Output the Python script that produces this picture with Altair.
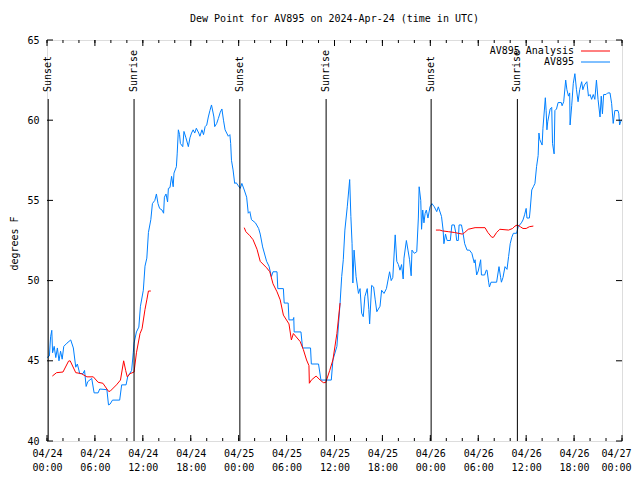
import json
import altair as alt
import pandas as pd

# ---------------- data ----------------
TITLE = "Dew Point for AV895 on 2024-Apr-24 (time in UTC)"
Y_TITLE = "degrees F"

# observed series (hours since 04/24 00:00 UTC, degrees F)
obs_hours = [0.0, 0.3, 0.45, 0.6, 0.7, 0.9, 1.1, 1.3, 1.5, 1.7, 1.9, 2.1, 2.5, 2.97, 3.3, 3.6, 3.8, 4.1, 4.5, 4.7,
             4.9, 5.1, 5.6, 5.9, 6.4, 6.6, 7.5, 7.7, 7.9, 8.2, 9.1, 9.35, 9.9, 10.1, 10.6, 10.8, 10.9, 11.2, 11.5, 11.7,
             12.06, 12.27, 12.5, 12.7, 13.0, 13.2, 13.5, 13.7, 13.9, 14.1, 14.4, 14.6, 14.7, 14.9, 15.1, 15.2, 15.4, 15.6, 15.8, 15.9,
             16.2, 16.3, 16.45, 16.6, 16.7, 17.0, 17.15, 17.4, 17.7, 17.9, 18.1, 18.3, 18.5, 18.7, 19.0, 19.15, 19.4, 19.6, 19.8, 20.0,
             20.2, 20.4, 20.6, 20.9, 21.0, 21.25, 21.45, 21.7, 21.9, 22.1, 22.3, 22.5, 22.7, 22.9, 23.0, 23.1, 23.3, 23.5, 23.7, 23.9,
             24.2, 24.4, 24.7, 25.0, 25.2, 25.4, 25.6, 26.1, 26.5, 26.7, 27.0, 27.5, 27.8, 28.1, 28.3, 28.8, 28.9, 29.6, 29.7, 30.2,
             30.3, 30.8, 30.9, 30.95, 31.8, 32.0, 33.0, 33.1, 34.0, 34.3, 35.6, 35.8, 36.3, 36.7, 36.9, 37.1, 37.3, 37.6, 37.9, 38.05,
             38.2, 38.3, 38.45, 38.7, 39.0, 39.2, 39.4, 39.6, 39.8, 40.1, 40.3, 40.4, 40.65, 40.9, 41.1, 41.3, 41.7, 41.9, 42.2, 42.5,
             42.9, 43.1, 43.3, 43.6, 43.8, 44.0, 44.2, 44.4, 44.6, 44.7, 45.0, 45.2, 45.4, 45.6, 45.7, 46.0, 46.3, 46.5, 46.6, 46.8,
             46.9, 47.05, 47.2, 47.35, 47.5, 47.7, 47.96, 48.2, 48.5, 48.8, 49.0, 49.4, 49.6, 49.7, 49.9, 50.1, 50.5, 50.7, 51.0, 51.2,
             51.3, 51.5, 51.6, 51.9, 52.1, 52.3, 52.6, 52.9, 53.2, 53.5, 53.6, 53.8, 54.0, 54.3, 54.4, 54.8, 55.0, 55.1, 55.3, 55.4,
             55.6, 56.3, 56.6, 56.8, 56.9, 57.1, 57.35, 57.6, 57.8, 58.0, 58.2, 58.4, 58.8, 59.0, 59.4, 59.6, 59.8, 60.0, 60.1, 60.4,
             60.5, 60.7, 60.9, 61.1, 61.3, 61.5, 61.6, 61.7, 62.0, 62.1, 62.4, 62.5, 62.6, 62.7, 63.0, 63.2, 63.3, 63.5, 63.6, 63.8,
             64.0, 64.4, 64.5, 64.7, 64.95, 65.1, 65.3, 65.45, 65.5, 65.7, 65.9, 66.1, 66.3, 66.5, 66.7, 66.95, 67.1, 67.3, 67.6, 67.8,
             68.0, 68.2, 68.4, 68.6, 68.8, 69.0, 69.25, 69.4, 69.55, 69.7, 70.0, 70.2, 70.5, 70.7, 70.9, 71.1, 71.5, 71.6, 71.7, 71.9,
             72.0]
obs_values = [45.2, 45.3, 46.5, 46.9, 45.5, 45.9, 45.2, 45.8, 45.0, 45.6, 45.1, 45.9, 46.1, 46.3, 45.8, 44.6, 44.8, 44.2, 44.2, 44.4,
              43.4, 43.7, 43.9, 43.0, 43.0, 43.24, 43.2, 42.25, 42.3, 42.55, 42.55, 43.5, 43.5, 44.0, 44.4, 45.5, 46.1, 46.8, 47.1, 48.4,
              49.4, 50.9, 51.4, 53.0, 53.8, 54.8, 55.0, 55.4, 54.8, 54.5, 54.4, 54.2, 55.2, 55.4, 54.9, 55.75, 55.8, 56.5, 55.85, 56.7,
              57.1, 57.9, 59.4, 59.1, 58.55, 58.35, 59.3, 58.9, 58.35, 58.9, 59.2, 59.4, 59.2, 59.5, 59.2, 59.0, 59.4, 59.1, 59.6, 59.7,
              60.2, 60.6, 60.95, 60.2, 59.6, 59.8, 60.1, 60.5, 60.7, 60.0, 59.4, 59.2, 59.0, 59.1, 58.55, 57.5, 56.9, 56.06, 56.1, 55.95,
              55.75, 56.06, 55.65, 55.2, 54.2, 54.3, 53.8, 53.6, 53.25, 52.9, 52.1, 51.2, 50.9, 50.25, 50.55, 50.55, 49.5, 49.5, 48.6, 48.6,
              47.55, 47.55, 47.7, 46.8, 46.8, 45.8, 45.8, 44.8, 44.8, 43.8, 43.8, 45.05, 45.9, 48.6, 50.25, 51.3, 53.15, 54.6, 56.3, 54.0,
              52.3, 49.85, 51.9, 50.25, 49.2, 49.5, 47.97, 47.75, 49.0, 49.5, 48.2, 47.3, 49.7, 49.6, 48.8, 48.06, 48.4, 49.4, 49.2, 49.5,
              50.55, 50.0, 50.2, 52.85, 51.2, 51.0, 50.65, 51.0, 50.1, 51.4, 52.5, 51.9, 51.3, 50.3, 51.9, 51.7, 51.8, 53.9, 55.85, 55.0,
              53.2, 54.4, 53.6, 54.2, 54.4, 53.9, 54.6, 54.8, 54.6, 54.3, 54.6, 54.0, 53.15, 52.3, 52.9, 52.5, 52.5, 53.47, 53.47, 52.95,
              52.5, 52.5, 53.47, 53.47, 52.95, 52.3, 51.9, 51.9, 51.7, 51.1, 51.3, 50.35, 50.6, 51.3, 50.35, 50.35, 50.65, 50.65, 49.9, 49.6,
              49.9, 49.9, 50.87, 50.2, 49.9, 50.2, 50.87, 50.7, 51.5, 52.3, 52.7, 52.95, 52.95, 53.36, 53.6, 53.78, 54.1, 54.5, 53.9, 53.9,
              54.4, 55.65, 55.85, 56.06, 57.1, 57.8, 59.2, 58.8, 58.45, 59.5, 61.4, 60.6, 59.4, 59.9, 60.7, 60.8, 58.55, 57.9, 60.6, 60.7,
              61.1, 61.1, 60.9, 61.15, 62.5, 61.9, 61.5, 61.7, 59.7, 60.9, 62.3, 62.9, 61.9, 61.15, 61.9, 62.4, 61.9, 62.2, 62.4, 61.5,
              61.6, 61.3, 61.6, 61.3, 62.5, 61.3, 60.2, 61.5, 60.4, 61.6, 61.6, 61.7, 61.7, 61.05, 59.8, 60.6, 60.6, 60.4, 59.7, 60.0,
              60.0]

# analysis series, three separate pieces
ana_seg = ([1] * 27) + ([2] * 29) + ([3] * 25)
ana_hours = [0.67, 1.2, 2.0, 2.7, 2.9, 3.6, 4.3, 5.0, 5.8, 6.4, 7.0, 7.7, 7.9, 8.7, 9.2, 9.6, 9.85, 10.05, 10.4, 10.9,
             11.2, 11.65, 11.9, 12.27, 12.5, 12.7, 13.0,
             24.7, 24.9, 25.4, 25.8, 26.3, 26.7, 27.5, 27.9, 28.3, 28.8, 29.2, 29.6, 30.3, 30.6, 30.85, 31.7, 32.1, 32.5, 32.8, 32.85,
             33.1, 33.7, 34.2, 34.6, 34.9, 35.4, 35.8, 36.3, 36.7,
             48.7, 49.2, 49.5, 50.25, 51.0, 51.5, 52.0, 52.3, 52.75, 53.6, 54.85, 55.2, 55.7, 55.9, 56.3, 56.7, 57.8, 58.3, 58.6, 58.9,
             59.3, 59.6, 60.0, 60.4, 60.9]
ana_values = [44.05, 44.26, 44.3, 44.98, 45.0, 44.26, 44.2, 44.0, 44.0, 43.66, 43.6, 43.1, 43.1, 43.5, 43.8, 45.0, 44.4, 44.0, 44.2, 44.3,
              45.5, 46.7, 47.0, 48.2, 48.8, 49.35, 49.35,
              53.3, 53.05, 52.8, 52.55, 51.95, 51.2, 50.8, 50.55, 49.8, 49.3, 48.8, 47.85, 47.3, 46.3, 46.7, 46.2, 45.7, 45.05, 44.7, 43.6,
              43.8, 44.05, 43.8, 43.64, 43.64, 44.4, 45.05, 46.7, 48.6,
              53.15, 53.15, 53.1, 53.05, 53.0, 52.95, 52.9, 53.0, 53.2, 53.3, 53.3, 53.0, 52.7, 52.7, 53.0, 53.2, 53.15, 53.25, 53.4, 53.47,
              53.35, 53.25, 53.25, 53.36, 53.4]

event_names = ["Sunset", "Sunrise", "Sunset", "Sunrise", "Sunset", "Sunrise"]
event_hours = [0.15, 10.9, 24.15, 34.95, 48.1, 58.9]

legend_labels = ["AV895 Analysis", "AV895"]
legend_colors = ["#ff0000", "#0080ff"]

x_major = list(range(0, 73, 6))
x_minor = list(range(0, 73, 2))
x_dates = ["04/24", "04/24", "04/24", "04/24", "04/25", "04/25", "04/25", "04/25", "04/26", "04/26", "04/26", "04/26", "04/27"]
x_times = ["00:00", "06:00", "12:00", "18:00"] * 3 + ["00:00"]
y_ticks = [40, 45, 50, 55, 60, 65]

# ---------------- chart ----------------
FONT = "DejaVu Sans Mono"
W, H = 575, 401

obs = pd.DataFrame({"h": obs_hours, "v": obs_values})
ana = pd.DataFrame({"h": ana_hours, "v": ana_values, "seg": ana_seg})
ev = pd.DataFrame({"h": event_hours, "name": event_names})
leg = pd.DataFrame({"label": legend_labels, "color": legend_colors, "row": [0, 1]})
xmaj = pd.DataFrame({"h": x_major})
xmin = pd.DataFrame({"h": x_minor})
yt = pd.DataFrame({"v": y_ticks})

label_expr = "[{d}[datum.value/6], {t}[datum.value/6]]".format(d=json.dumps(x_dates), t=json.dumps(x_times))
last_x = x_major[-1]

xs = alt.Scale(domain=[0, 72], nice=False, zero=False)
ys = alt.Scale(domain=[40, 65], nice=False, zero=False)

x_axis = alt.Axis(values=x_major, labelExpr=label_expr, ticks=False, domain=False, grid=False,
                  labelFont=FONT, labelFontSize=10, labelColor="black", labelPadding=7,
                  labelBaseline="top", labelLineHeight=14,
                  labelAlign=alt.condition(f"datum.value == {last_x}", alt.value("right"), alt.value("center")),
                  labelOffset=alt.condition(f"datum.value == {last_x}", alt.value(9), alt.value(0)),
                  labelBound=False, labelOverlap=False, title=None)
y_axis = alt.Axis(values=y_ticks, ticks=False, domain=False, grid=False,
                  labelFont=FONT, labelFontSize=10, labelColor="black", labelPadding=8,
                  title=Y_TITLE, titleFont=FONT, titleFontSize=10, titleFontWeight="normal",
                  titleColor="black", titleX=-33, titleY=203, titleAngle=270,
                  titleAlign="center", titleBaseline="middle")

X = alt.X("h:Q", scale=xs)
Y = alt.Y("v:Q", scale=ys)

obs_line = alt.Chart(obs).mark_line(color="#0080ff", strokeWidth=1, clip=True).encode(
    x=alt.X("h:Q", scale=xs, axis=x_axis), y=alt.Y("v:Q", scale=ys, axis=y_axis), order="h:Q")
ana_line = alt.Chart(ana).mark_line(color="#ff0000", strokeWidth=1, clip=True).encode(
    x=X, y=Y, detail="seg:N", order="h:Q")

ev_rule = alt.Chart(ev).mark_rule(color="black", strokeWidth=1).encode(
    x=X, y=alt.value(59), y2=alt.value(H))
ev_text = alt.Chart(ev).mark_text(angle=270, align="left", baseline="middle", font=FONT,
                                  fontSize=10, color="black").encode(
    x=X, y=alt.value(52), text="name:N")

# inward tick marks on all four sides
tick_min_b = alt.Chart(xmin).mark_rule(color="black").encode(x=X, y=alt.value(H), y2=alt.value(H - 3))
tick_min_t = alt.Chart(xmin).mark_rule(color="black").encode(x=X, y=alt.value(0), y2=alt.value(3))
tick_maj_b = alt.Chart(xmaj).mark_rule(color="black").encode(x=X, y=alt.value(H), y2=alt.value(H - 6))
tick_maj_t = alt.Chart(xmaj).mark_rule(color="black").encode(x=X, y=alt.value(0), y2=alt.value(6))
tick_y_l = alt.Chart(yt).mark_rule(color="black").encode(y=Y, x=alt.value(0), x2=alt.value(6))
tick_y_r = alt.Chart(yt).mark_rule(color="black").encode(y=Y, x=alt.value(W - 6), x2=alt.value(W))

# legend (text then sample line, gnuplot style)
leg_layers = []
for i, ypix in enumerate([11, 22]):
    sub = alt.Chart(leg).transform_filter(f"datum.row == {i}")
    leg_layers.append(sub.mark_text(align="right", baseline="middle", font=FONT, fontSize=10,
                                    color="black").encode(x=alt.value(527), y=alt.value(ypix), text="label:N"))
    leg_layers.append(sub.mark_rule(strokeWidth=1).encode(
        x=alt.value(534), x2=alt.value(563), y=alt.value(ypix), color=alt.Color("color:N", scale=None)))

chart = alt.layer(
    obs_line, ana_line, ev_rule, ev_text,
    tick_min_b, tick_min_t, tick_maj_b, tick_maj_t, tick_y_l, tick_y_r,
    *leg_layers,
).properties(
    width=W, height=H,
    title=alt.TitleParams(TITLE, font=FONT, fontSize=10, fontWeight="normal", color="black",
                          anchor="middle", frame="group", offset=11),
    autosize=alt.AutoSizeParams(type="none"),
    padding={"left": 39, "top": 32, "right": 10, "bottom": 31},
).configure_view(stroke="black", strokeWidth=1).configure(background="white")

chart.save("out.html", embed_options={"renderer": "svg", "actions": False})
